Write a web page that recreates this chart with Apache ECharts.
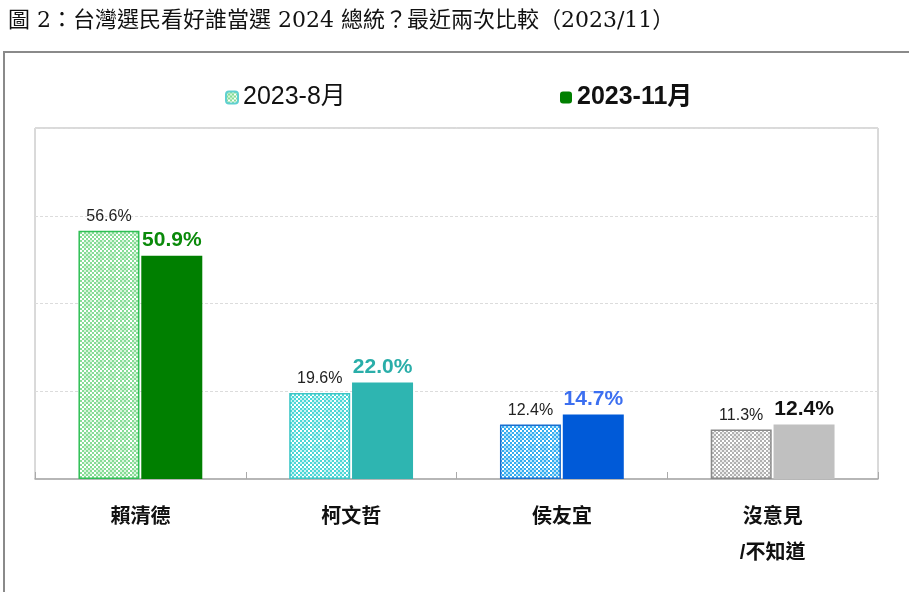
<!DOCTYPE html>
<html>
<head>
<meta charset="utf-8">
<script src="https://cdn.jsdelivr.net/npm/echarts@6/dist/echarts.min.js"></script>
<style>html,body{margin:0;padding:0;background:#fff;}#c{width:909px;height:592px;}</style>
</head>
<body>
<div id="c"></div>
<script>
const categories = ['賴清德', '柯文哲', '侯友宜', '沒意見\n/不知道'];
const aug2023 = [56.6, 19.6, 12.4, 11.3];
const nov2023 = [50.9, 22.0, 14.7, 12.4];
const seriesNames = ['2023-8月', '2023-11月'];

const FONT = '"Liberation Sans", Arial, "Noto Sans CJK TC", sans-serif';

// pattern colours per category: [dark check, light check, border]
const patternColors = [
  ['#86dc96', '#d6f5da', '#2fbf55'],
  ['#4cd6d6', '#c8f3f3', '#3cc6c6'],
  ['#35adf0', '#b6e3fb', '#1b6fcf'],
  ['#b0b0b0', '#eaeaea', '#8a8a8a']
];
const solidColors = ['#007f00', '#2eb5b1', '#005ad8', '#c0c0c0'];
const labelColors = ['#0a8a0a', '#2aaea9', '#3c6ff0', '#111111'];

function makePattern(dark, light) {
  const cv = document.createElement('canvas');
  cv.width = 12; cv.height = 12;
  const ctx = cv.getContext('2d');
  ctx.fillStyle = '#ffffff';
  ctx.fillRect(0, 0, 12, 12);
  for (let y = 0; y < 12; y += 2) {
    for (let x = 0; x < 12; x += 2) {
      const band = (x >= 8) || (y >= 8);
      if (((x + y) / 2) % 2 === 0) {
        ctx.fillStyle = dark;
      } else {
        ctx.fillStyle = band ? '#ffffff' : light;
      }
      ctx.fillRect(x, y, 2, 2);
    }
  }
  return cv;
}

const augData = aug2023.map((v, i) => ({
  value: v,
  itemStyle: {
    color: { image: makePattern(patternColors[i][0], patternColors[i][1]), repeat: 'repeat' },
    borderColor: patternColors[i][2],
    borderWidth: 1.5
  }
}));
const novData = nov2023.map((v, i) => ({
  value: v,
  itemStyle: { color: solidColors[i] },
  label: { color: labelColors[i] }
}));

const chart = echarts.init(document.getElementById('c'));
chart.setOption({
  animation: false,
  backgroundColor: '#ffffff',
  title: {
    text: '圖 2：台灣選民看好誰當選 2024 總統？最近兩次比較（2023/11）',
    left: 3, top: 5,
    textStyle: { fontFamily: '"DejaVu Serif", "Liberation Serif", "Noto Sans CJK TC", serif', fontSize: 22, fontWeight: 'normal', color: '#111' }
  },
  graphic: [{
    type: 'rect',
    shape: { x: 4, y: 52, width: 920, height: 560 },
    style: { fill: 'none', stroke: '#8a8a8a', lineWidth: 2 },
    silent: true
  }],
  legend: [{
    data: [seriesNames[0]],
    left: 220, top: 80,
    itemWidth: 12, itemHeight: 12, itemGap: 5,
    textStyle: { fontFamily: FONT, fontSize: 25, color: '#111' }
  }, {
    data: [seriesNames[1]],
    left: 555, top: 80,
    itemWidth: 12, itemHeight: 12, itemGap: 5,
    textStyle: { fontFamily: FONT, fontSize: 25, fontWeight: 'bold', color: '#111' }
  }],
  grid: { left: 35, right: 31, top: 128, bottom: 113, show: true, borderColor: '#b4b4b4', borderWidth: 1 },
  xAxis: {
    type: 'category',
    data: categories,
    axisLine: { lineStyle: { color: '#aaaaaa', width: 1.5 } },
    axisTick: { show: true, inside: true, length: 7, lineStyle: { color: '#aaaaaa' } },
    axisLabel: { fontFamily: FONT, fontSize: 20, fontWeight: 'bold', color: '#111', margin: 20, lineHeight: 36 }
  },
  yAxis: {
    type: 'value',
    min: 0, max: 80, interval: 20,
    axisLabel: { show: false },
    axisLine: { show: false },
    axisTick: { show: false },
    splitLine: { lineStyle: { color: '#dcdcdc', type: [3, 2] } }
  },
  series: [{
    name: seriesNames[0],
    type: 'bar',
    data: augData,
    barWidth: 61,
    barGap: '3%',
    itemStyle: {
      color: { image: makePattern('#86dc96', '#d6f5da'), repeat: 'repeat' },
      borderColor: '#5fd0d0', borderWidth: 1.5
    },
    label: {
      show: true, position: 'top', distance: 6,
      formatter: p => p.value.toFixed(1) + '%',
      fontFamily: FONT, fontSize: 16, color: '#222'
    }
  }, {
    name: seriesNames[1],
    type: 'bar',
    data: novData,
    barWidth: 61,
    itemStyle: { color: '#007f00' },
    label: {
      show: true, position: 'top', distance: 5,
      formatter: p => p.value.toFixed(1) + '%',
      fontFamily: FONT, fontSize: 21, fontWeight: 'bold'
    }
  }]
});
</script>
</body>
</html>
